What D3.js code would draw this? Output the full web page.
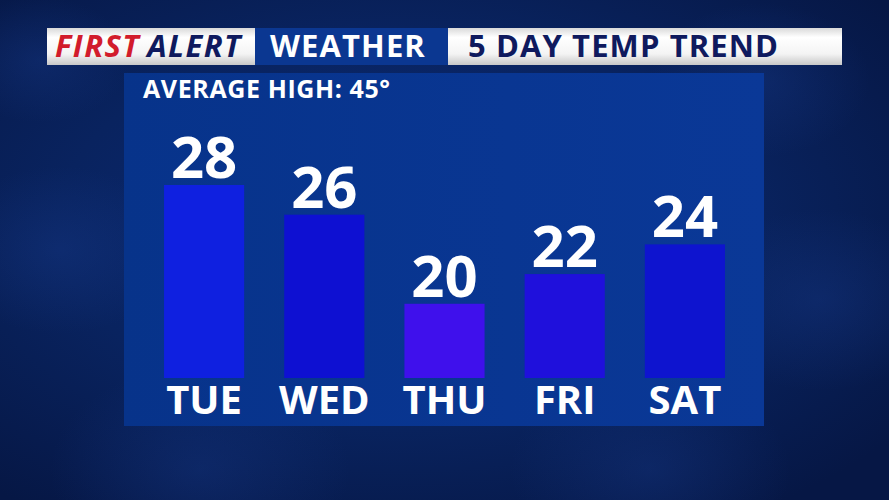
<!DOCTYPE html>
<html><head><meta charset="utf-8">
<script src="https://cdn.jsdelivr.net/npm/d3@7/dist/d3.min.js"></script>
<style>html,body{margin:0;padding:0;background:#0a2160;overflow:hidden}</style>
</head><body>
<svg id="c" width="889" height="500"></svg>
<script>
const days = ["TUE","WED","THU","FRI","SAT"];
const temps = [28, 26, 20, 22, 24];
const barColors = ["#0f20e0","#0e10d2","#3f10ec","#1f10dc","#0e14cf"];
const titleTexts = ["FIRST","ALERT","WEATHER","5 DAY TEMP TREND"];
const subtitle = "AVERAGE HIGH: 45°";

const svg = d3.select("#c");
const W = 889, H = 500;
const defs = svg.append("defs");

const bg = defs.append("radialGradient").attr("id","bg").attr("cx","45%").attr("cy","45%").attr("r","70%");
bg.append("stop").attr("offset","0%").attr("stop-color","#0b2c7a");
bg.append("stop").attr("offset","55%").attr("stop-color","#09235f");
bg.append("stop").attr("offset","100%").attr("stop-color","#061745");
svg.append("rect").attr("width",W).attr("height",H).attr("fill","url(#bg)");

const blot = defs.append("radialGradient").attr("id","blot");
blot.append("stop").attr("offset","0%").attr("stop-color","#1a3f95").attr("stop-opacity",0.3);
blot.append("stop").attr("offset","100%").attr("stop-color","#1a3f95").attr("stop-opacity",0);
[[60,250,120],[820,300,130],[760,80,110],[200,470,150],[650,470,140],[40,60,90]].forEach(b=>{
  svg.append("ellipse").attr("cx",b[0]).attr("cy",b[1]).attr("rx",b[2]).attr("ry",b[2]*0.7).attr("fill","url(#blot)");
});

const pg = defs.append("linearGradient").attr("id","pg").attr("x1","0").attr("x2","1").attr("y1","0").attr("y2","0");
pg.append("stop").attr("offset","0%").attr("stop-color","#07338a");
pg.append("stop").attr("offset","60%").attr("stop-color","#093692");
pg.append("stop").attr("offset","100%").attr("stop-color","#0a3897");
svg.append("rect").attr("x",124).attr("y",73).attr("width",640).attr("height",353).attr("fill","url(#pg)");

const wg = defs.append("linearGradient").attr("id","wg").attr("x1","0").attr("x2","0").attr("y1","0").attr("y2","1");
wg.append("stop").attr("offset","0%").attr("stop-color","#d9d9d9");
wg.append("stop").attr("offset","25%").attr("stop-color","#ffffff");
wg.append("stop").attr("offset","70%").attr("stop-color","#f4f4f4");
wg.append("stop").attr("offset","100%").attr("stop-color","#c8c8c8");
svg.append("rect").attr("x",47).attr("y",28).attr("width",208).attr("height",37).attr("fill","url(#wg)");
svg.append("rect").attr("x",255).attr("y",28).attr("width",193).attr("height",37).attr("fill","#0b3791");
svg.append("rect").attr("x",448).attr("y",28).attr("width",394).attr("height",37).attr("fill","url(#wg)");

const font = "'Open Sans', 'DejaVu Sans', sans-serif";
const ht = svg.append("text").attr("x",55).attr("y",57).attr("font-family",font).attr("font-weight",700)
  .attr("font-style","italic").attr("font-size",31).attr("letter-spacing",1.4);
ht.append("tspan").attr("fill","#d21c2c").text(titleTexts[0]);
ht.append("tspan").attr("fill","#0f1a5e").attr("dx",7).text(titleTexts[1]);
svg.append("text").attr("x",270).attr("y",57).attr("font-family",font).attr("font-weight",700)
  .attr("font-size",31).attr("letter-spacing",1.1).attr("fill","#ffffff").text(titleTexts[2]);
svg.append("text").attr("x",468).attr("y",57).attr("font-family",font).attr("font-weight",700)
  .attr("font-size",31).attr("letter-spacing",1.1).attr("fill","#0f1a5e").text(titleTexts[3]);

svg.append("text").attr("x",143).attr("y",98).attr("font-family",font).attr("font-weight",700)
  .attr("font-size",25).attr("letter-spacing",0.6).attr("fill","#ffffff").text(subtitle);

const x = d3.scaleBand().domain(days).range([144,745]).paddingInner(1/3).paddingOuter(1/6);
const y = d3.scaleLinear().domain([15,28]).range([378,185]);

const g = svg.append("g");
g.selectAll("rect.bar").data(days).join("rect").attr("class","bar")
  .attr("x",d=>x(d)).attr("width",x.bandwidth())
  .attr("y",(d,i)=>y(temps[i])).attr("height",(d,i)=>y(15)-y(temps[i]))
  .attr("fill",(d,i)=>barColors[i]);

g.selectAll("text.val").data(days).join("text").attr("class","val")
  .attr("x",d=>x(d)+x.bandwidth()/2).attr("y",(d,i)=>y(temps[i])-7)
  .attr("text-anchor","middle").attr("font-family",font).attr("font-weight",700)
  .attr("font-size",58).attr("fill","#ffffff").text((d,i)=>temps[i]);

const xAxis = d3.axisBottom(x).tickSize(0).tickPadding(0);
const ax = svg.append("g").attr("transform","translate(0,378)").call(xAxis);
ax.select(".domain").remove();
ax.selectAll("text").attr("font-family",font).attr("font-weight",700).attr("font-size",40)
  .attr("fill","#ffffff").attr("dy",null).attr("y",36);
</script>
</body></html>
